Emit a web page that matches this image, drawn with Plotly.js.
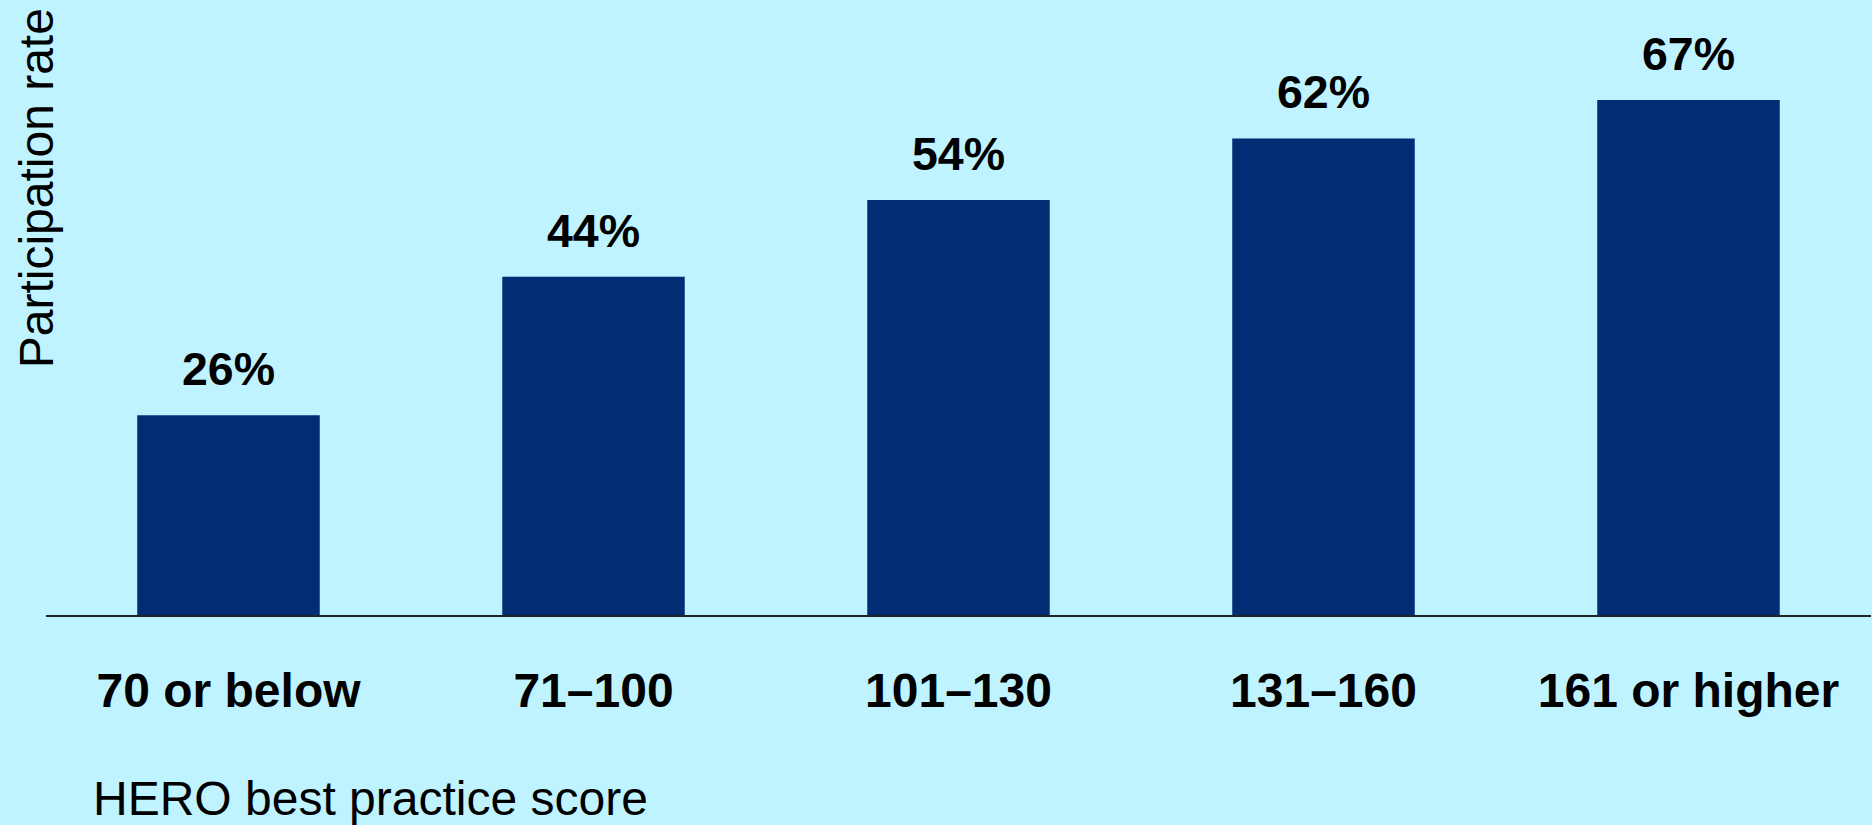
<!DOCTYPE html>
<html>
<head>
<meta charset="utf-8">
<script src="https://cdn.plot.ly/plotly-3.0.1.min.js"></script>
<style>
  html, body { margin: 0; padding: 0; background: #BFF3FF; }
  #chart { width: 1872px; height: 825px; }
</style>
</head>
<body>
<div id="chart"></div>
<script>
const categories = ["70 or below", "71–100", "101–130", "131–160", "161 or higher"];
const participation = [26, 44, 54, 62, 67];
const valueLabels = ["26%", "44%", "54%", "62%", "67%"];
const xTitle = "HERO best practice score";
const yTitle = "Participation rate";

const FONT = "Liberation Sans, Arial, sans-serif";
const BG = "#BFF3FF";
const BAR = "#002D74";

const trace = {
  type: "bar",
  x: categories,
  y: participation,
  marker: { color: BAR, line: { width: 0 } },
  width: 0.5,
  hoverinfo: "skip"
};

const labelAnnotations = categories.map((c, i) => ({
  x: c, y: participation[i], xref: "x", yref: "y",
  text: "<b>" + valueLabels[i] + "</b>",
  showarrow: false, yanchor: "bottom", yshift: 18,
  font: { family: FONT, size: 46.5, color: "#000" }
}));

const layout = {
  width: 1872, height: 825,
  paper_bgcolor: BG, plot_bgcolor: BG,
  margin: { l: 46, r: 1, t: 0, b: 210, pad: 0 },
  showlegend: false,
  bargap: 0.5,
  xaxis: {
    type: "category",
    showline: true, linecolor: "#222", linewidth: 2,
    showgrid: false, zeroline: false,
    ticks: "", ticklabelstandoff: 32,
    tickfont: { family: FONT, size: 48, color: "#000", weight: "bold" }
  },
  yaxis: {
    range: [0, 80], visible: false, showgrid: false, zeroline: false, fixedrange: true
  },
  annotations: labelAnnotations.concat([
    {
      text: xTitle, xref: "paper", yref: "paper",
      x: 0.0245, y: -0.298, xanchor: "left", yanchor: "middle",
      showarrow: false, font: { family: FONT, size: 48, color: "#000" }
    },
    {
      text: yTitle, xref: "paper", yref: "paper",
      x: -0.0052, y: 0.693, xanchor: "center", yanchor: "middle",
      textangle: -90,
      showarrow: false, font: { family: FONT, size: 48, color: "#000" }
    }
  ])
};

Plotly.newPlot("chart", [trace], layout, { displayModeBar: false, staticPlot: true });
</script>
</body>
</html>
